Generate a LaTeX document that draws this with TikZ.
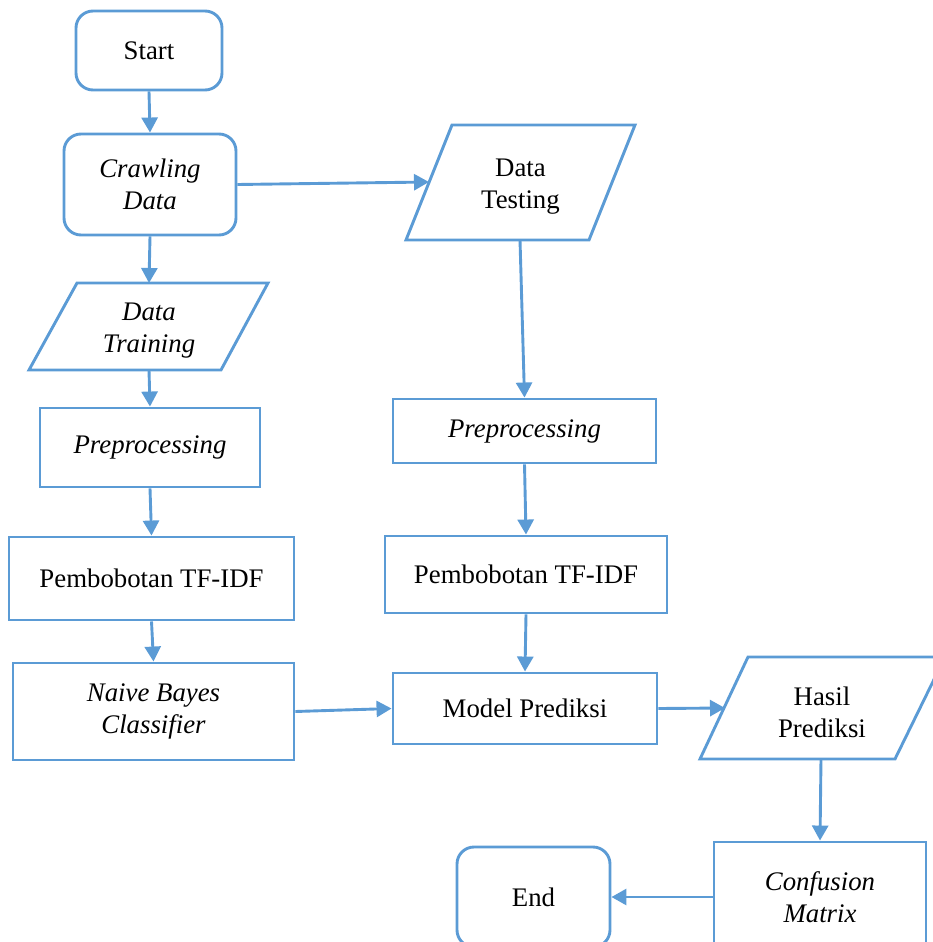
\documentclass[tikz,border=0pt]{standalone}
\usepackage{fontspec}
\setmainfont{Liberation Serif}
\usetikzlibrary{arrows.meta}
\definecolor{blu}{HTML}{5B9BD5}
\begin{document}
\begin{tikzpicture}[x=1pt,y=-1pt,
  lbl/.style={align=center,inner sep=0pt,font=\fontsize{26.8}{32}\selectfont},
  box/.style={lbl,draw=blu,line width=2.9pt},
  rbox/.style={box,rounded corners=17pt},
  para/.style={draw=blu,line width=2.9pt,line join=miter},
  arr/.style={draw=blu,line width=2.9pt,-{Triangle[length=15pt,width=16pt]}},
  tx/.style={yshift=-4pt}]
\useasboundingbox (0,0) rectangle (933,942);
% rounded terminals / processes
\node[rbox,minimum width=146pt,minimum height=79pt] (start) at (149,50.5) {Start};
\node[rbox,minimum width=172pt,minimum height=101pt] (crawl) at (150,184.5) {\itshape Crawling\\\itshape Data};
\node[rbox,minimum width=153pt,minimum height=100pt] (end) at (533.5,897) {End};
% parallelograms
\draw[para] (452,125) -- (635,125) -- (589,240) -- (406,240) -- cycle;
\node[lbl,tx] (dtest) at (520.5,183) {Data\\Testing};
\draw[para] (77,283) -- (268,283) -- (221,370) -- (29,370) -- cycle;
\node[lbl,tx] (dtrain) at (149,327) {\itshape Data\\\itshape Training};
\draw[para] (748,657) -- (945,657) -- (895,759) -- (700,759) -- cycle;
\node[lbl,tx] (hasil) at (822,708) {Hasil\\Prediksi};
% rectangles
\node[box,minimum width=220pt,minimum height=79pt] (ppl) at (150,447.5) {\itshape Preprocessing};
\node[box,minimum width=285pt,minimum height=83pt] (pbl) at (151.5,578.5) {Pembobotan TF-IDF};
\node[box,minimum width=281pt,minimum height=97pt] (nb) at (153.5,711.5) {\itshape Naive Bayes\\\itshape Classifier};
\node[box,minimum width=263pt,minimum height=64pt] (ppr) at (524.5,431) {\itshape Preprocessing};
\node[box,minimum width=282pt,minimum height=77pt] (pbr) at (526,574.5) {Pembobotan TF-IDF};
\node[box,minimum width=264pt,minimum height=71pt] (mp) at (525,708.5) {Model Prediksi};
\node[box,minimum width=212pt,minimum height=110pt] (cm) at (820,897) {\itshape Confusion\\\itshape Matrix};
% connector end points on parallelogram borders
\coordinate (dtestin) at (429,182);
\coordinate (dtestout) at (520,240);
\coordinate (dtrainin) at (149,283);
\coordinate (dtrainout) at (149,370);
\coordinate (hasilin) at (725,708);
\coordinate (hasilout) at (821,759);
% connectors
\draw[arr] (start.south) -- (crawl.north);
\draw[arr] (crawl.east) -- (dtestin);
\draw[arr] (crawl.south) -- (dtrainin);
\draw[arr] (dtrainout) -- (ppl.north);
\draw[arr] (ppl.south) -- (pbl.north);
\draw[arr] (pbl.south) -- (nb.north);
\draw[arr] (nb.east) -- (mp.west);
\draw[arr] (dtestout) -- (ppr.north);
\draw[arr] (ppr.south) -- (pbr.north);
\draw[arr] (pbr.south) -- (mp.north);
\draw[arr] (mp.east) -- (hasilin);
\draw[arr] (hasilout) -- (cm.north);
\draw[arr] (cm.west) -- (end.east);
\end{tikzpicture}
\end{document}
